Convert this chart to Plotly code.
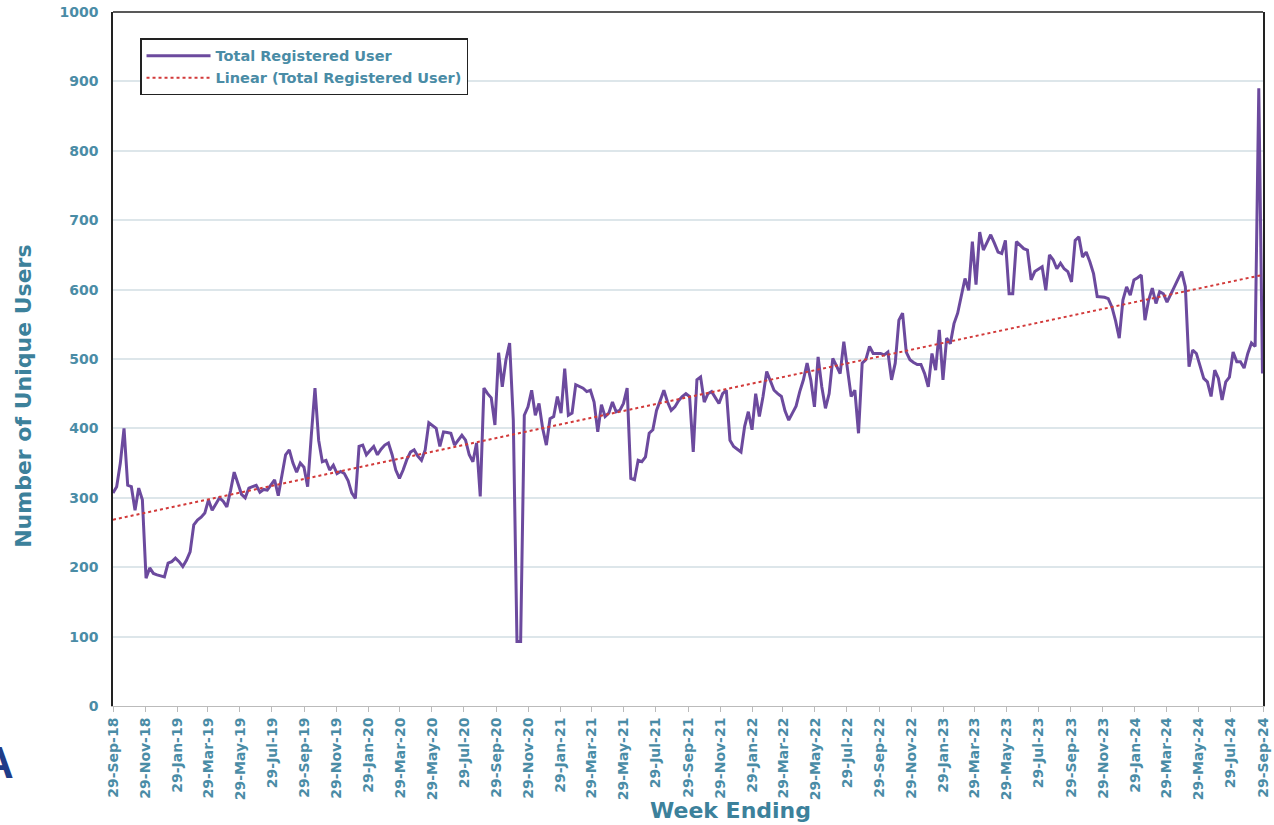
import numpy as np
import pandas as pd
import plotly.graph_objects as go

# ---------------- data ----------------
start_week = "2018-09-29"

users = [
    307, 316, 350, 400, 318, 316, 282, 314, 297, 184,
    199, 191, 189, 188, 186, 206, 208, 213, 208, 201,
    210, 222, 261, 268, 272, 278, 297, 282, 292, 300,
    295, 287, 310, 337, 321, 305, 300, 314, 316, 318,
    308, 312, 311, 318, 326, 303, 330, 362, 369, 350,
    337, 350, 344, 316, 390, 458, 383, 352, 354, 340,
    347, 335, 338, 335, 325, 307, 299, 374, 376, 362,
    368, 374, 362, 370, 376, 379, 362, 340, 328, 340,
    355, 366, 369, 360, 354, 369, 408, 404, 400, 374,
    395, 394, 393, 376, 383, 390, 383, 362, 352, 379,
    302, 458, 450, 444, 405, 509, 460, 499, 523, 412,
    93, 93, 419, 431, 455, 419, 436, 400, 376, 414,
    417, 446, 422, 486, 419, 422, 463, 460, 458, 453,
    455, 438, 395, 434, 417, 422, 438, 424, 426, 436,
    458, 328, 326, 354, 352, 359, 393, 398, 426, 440,
    455, 438, 426, 431, 440, 446, 450, 446, 366, 470,
    474, 438, 450, 453, 445, 436, 450, 455, 383, 374,
    370, 366, 403, 424, 398, 450, 417, 446, 482, 468,
    455, 450, 446, 425, 412, 422, 432, 453, 470, 494,
    470, 431, 503, 460, 429, 450, 501, 490, 479, 525,
    489, 446, 455, 393, 494, 499, 518, 508, 508, 508,
    506, 510, 470, 494, 556, 566, 510, 499, 495, 492,
    492, 479, 460, 508, 484, 542, 470, 530, 522, 551,
    566, 590, 616, 599, 669, 607, 683, 657, 669, 679,
    667, 654, 652, 671, 594, 594, 669, 664, 659, 657,
    614, 626, 630, 633, 599, 650, 643, 630, 638, 630,
    626, 611, 671, 676, 647, 654, 640, 623, 590, 590,
    589, 587, 575, 555, 530, 585, 604, 592, 614, 617,
    621, 556, 585, 602, 580, 597, 594, 582, 592, 604,
    615, 626, 604, 489, 513, 508, 490, 472, 467, 446,
    484, 472, 441, 467, 474, 510, 496, 496, 487, 508,
    523, 518, 890, 479,
]

tick_labels = [
    "29-Sep-18", "29-Nov-18", "29-Jan-19", "29-Mar-19", "29-May-19", "29-Jul-19",
    "29-Sep-19", "29-Nov-19", "29-Jan-20", "29-Mar-20", "29-May-20", "29-Jul-20",
    "29-Sep-20", "29-Nov-20", "29-Jan-21", "29-Mar-21", "29-May-21", "29-Jul-21",
    "29-Sep-21", "29-Nov-21", "29-Jan-22", "29-Mar-22", "29-May-22", "29-Jul-22",
    "29-Sep-22", "29-Nov-22", "29-Jan-23", "29-Mar-23", "29-May-23", "29-Jul-23",
    "29-Sep-23", "29-Nov-23", "29-Jan-24", "29-Mar-24", "29-May-24", "29-Jul-24",
    "29-Sep-24",
]

y_ticks = [0, 100, 200, 300, 400, 500, 600, 700, 800, 900, 1000]

# ---------------- derived ----------------
dates = pd.date_range(start_week, periods=len(users), freq="7D")
tick_dates = pd.to_datetime(tick_labels, format="%d-%b-%y")

idx = np.arange(len(users))
slope, intercept = np.polyfit(idx, np.array(users, dtype=float), 1)
trend = intercept + slope * idx

TEAL_T = "#3C819B"
TEAL = "#4A8CA6"
FONT = "DejaVu Sans"

fig = go.Figure()
fig.add_trace(go.Scatter(
    x=dates, y=users, mode="lines", name="Total Registered User",
    line=dict(color="#6C4A9E", width=3),
))
fig.add_trace(go.Scatter(
    x=dates, y=trend, mode="lines", name="Linear (Total Registered User)",
    line=dict(color="#D23A3A", width=2, dash="dot"),
))

fig.update_layout(
    width=1274, height=825,
    margin=dict(l=113, r=11, t=12, b=119, autoexpand=False),
    paper_bgcolor="white", plot_bgcolor="white",
    showlegend=True,
    legend=dict(
        x=0.0235, y=0.962, xanchor="left", yanchor="top",
        bgcolor="white", bordercolor="#222222", borderwidth=1.5,
        font=dict(family=FONT, size=14.5, color=TEAL, weight="bold"),
        tracegroupgap=0, itemwidth=64,
    ),
    xaxis=dict(
        type="date", automargin=False,
        range=[dates[0], tick_dates[-1]],
        tickmode="array", tickvals=tick_dates, ticktext=tick_labels,
        tickangle=-90,
        tickfont=dict(family=FONT, size=14, color=TEAL, weight="bold"),
        ticks="outside", ticklen=5, tickcolor="#BBBBBB",
        showline=True, linecolor="#BBBBBB", linewidth=1,
        showgrid=False, zeroline=False,
    ),
    yaxis=dict(
        range=[0, 1000], tickmode="array", tickvals=y_ticks, automargin=False,
        tickfont=dict(family=FONT, size=14, color=TEAL, weight="bold"),
        showgrid=True, gridcolor="#DDE6EA", gridwidth=1.5,
        showline=True, linecolor="#222222", linewidth=1.5, mirror=True,
        zeroline=False, ticks="", ticklabelstandoff=10,
    ),
    shapes=[dict(type="line", xref="paper", yref="paper", x0=0, x1=1, y0=1, y1=1,
                 line=dict(color="#222222", width=1.5))],
    annotations=[
        dict(text="Week Ending", xref="paper", yref="paper", x=0.537, y=-0.1499,
             xanchor="center", yanchor="middle", showarrow=False,
             font=dict(family=FONT, size=22, color=TEAL_T, weight="bold")),
        dict(text="Number of Unique Users", xref="paper", yref="paper",
             x=-0.0775, y=0.4467, textangle=-90,
             xanchor="center", yanchor="middle", showarrow=False,
             font=dict(family=FONT, size=22, color=TEAL_T, weight="bold")),
        dict(text="A", xref="paper", yref="paper", x=-0.0844, y=-0.081,
             xanchor="right", yanchor="middle", showarrow=False,
             font=dict(family="Liberation Sans", size=44, color="#1F3C88", weight="bold")),
    ],
)

fig.write_html(
    "out.html",
    config={"displayModeBar": False},
    post_script="document.body.style.margin='0px';document.body.style.overflow='hidden';",
)
